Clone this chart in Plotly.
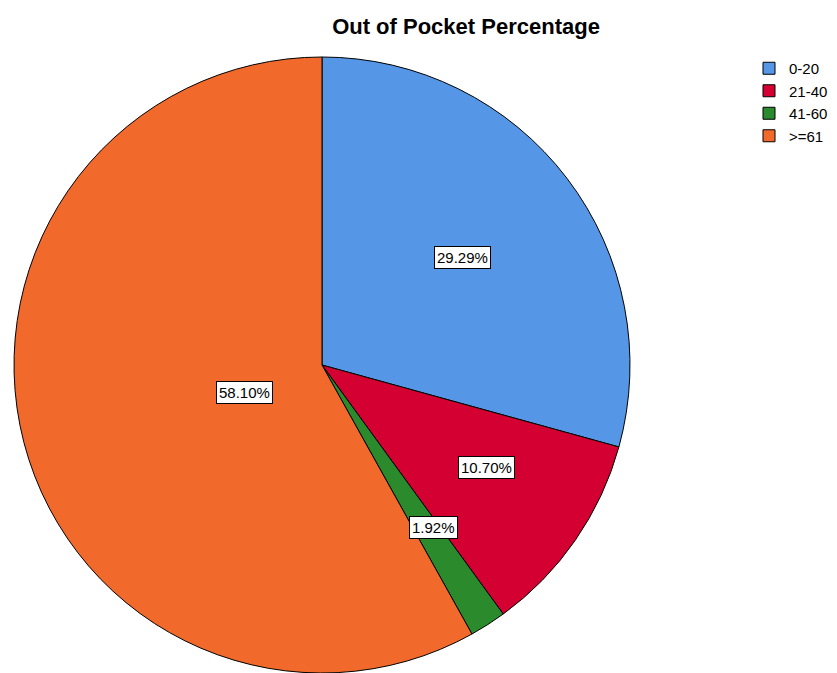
import math
import plotly.graph_objects as go

categories = ["0-20", "21-40", "41-60", ">=61"]
values = [29.29, 10.70, 1.92, 58.10]
colors = ["#5596E6", "#D50032", "#2B8A2B", "#F26A2B"]
label_radius_frac = [0.575, 0.65, 0.67, 0.355]

OFF = 8                      # page offset of the plot div
W, H = 837 - OFF, 673 - OFF  # layout size
cx, cy, R = 322 - OFF, 365 - OFF, 308  # pie geometry in layout pixels (from top-left)

fig = go.Figure()
fig.add_trace(go.Pie(
    labels=categories, values=values, sort=False, direction="clockwise", rotation=0,
    marker=dict(colors=colors, line=dict(color="black", width=1)),
    textinfo="none", hoverinfo="label+percent",
    domain=dict(x=[(cx - R) / W, (cx + R) / W], y=[max(0, (H - cy - R) / H), min(1, (H - cy + R) / H)]),
))

total = sum(values)
cum = 0.0
annotations = []
for v, f in zip(values, label_radius_frac):
    mid = (cum + v / 2) / total * 2 * math.pi
    cum += v
    px = cx + f * R * math.sin(mid)
    py = cy - f * R * math.cos(mid)
    annotations.append(dict(
        x=px / W, y=1 - py / H, xref="paper", yref="paper", showarrow=False,
        text=f"{v:.2f}%", font=dict(family="Liberation Sans, Arial", size=15, color="black"),
        bgcolor="white", bordercolor="black", borderwidth=1, borderpad=2,
    ))

fig.update_layout(
    width=W, height=H,
    margin=dict(l=0, r=0, t=0, b=0),
    paper_bgcolor="white", plot_bgcolor="white",
    title=dict(text="<b>Out of Pocket Percentage</b>", x=(466 - OFF) / W, xanchor="center",
               y=1 - (26 - OFF) / H, yanchor="middle",
               font=dict(family="Liberation Sans, Arial", size=22, color="black")),
    legend=dict(x=(833 - OFF) / W, y=1 - (52 - OFF) / H, xanchor="right", yanchor="top",
                font=dict(family="Liberation Sans, Arial", size=15, color="black"),
                itemwidth=30, tracegroupgap=0),
    annotations=annotations,
)

fig.write_html("out.html")
